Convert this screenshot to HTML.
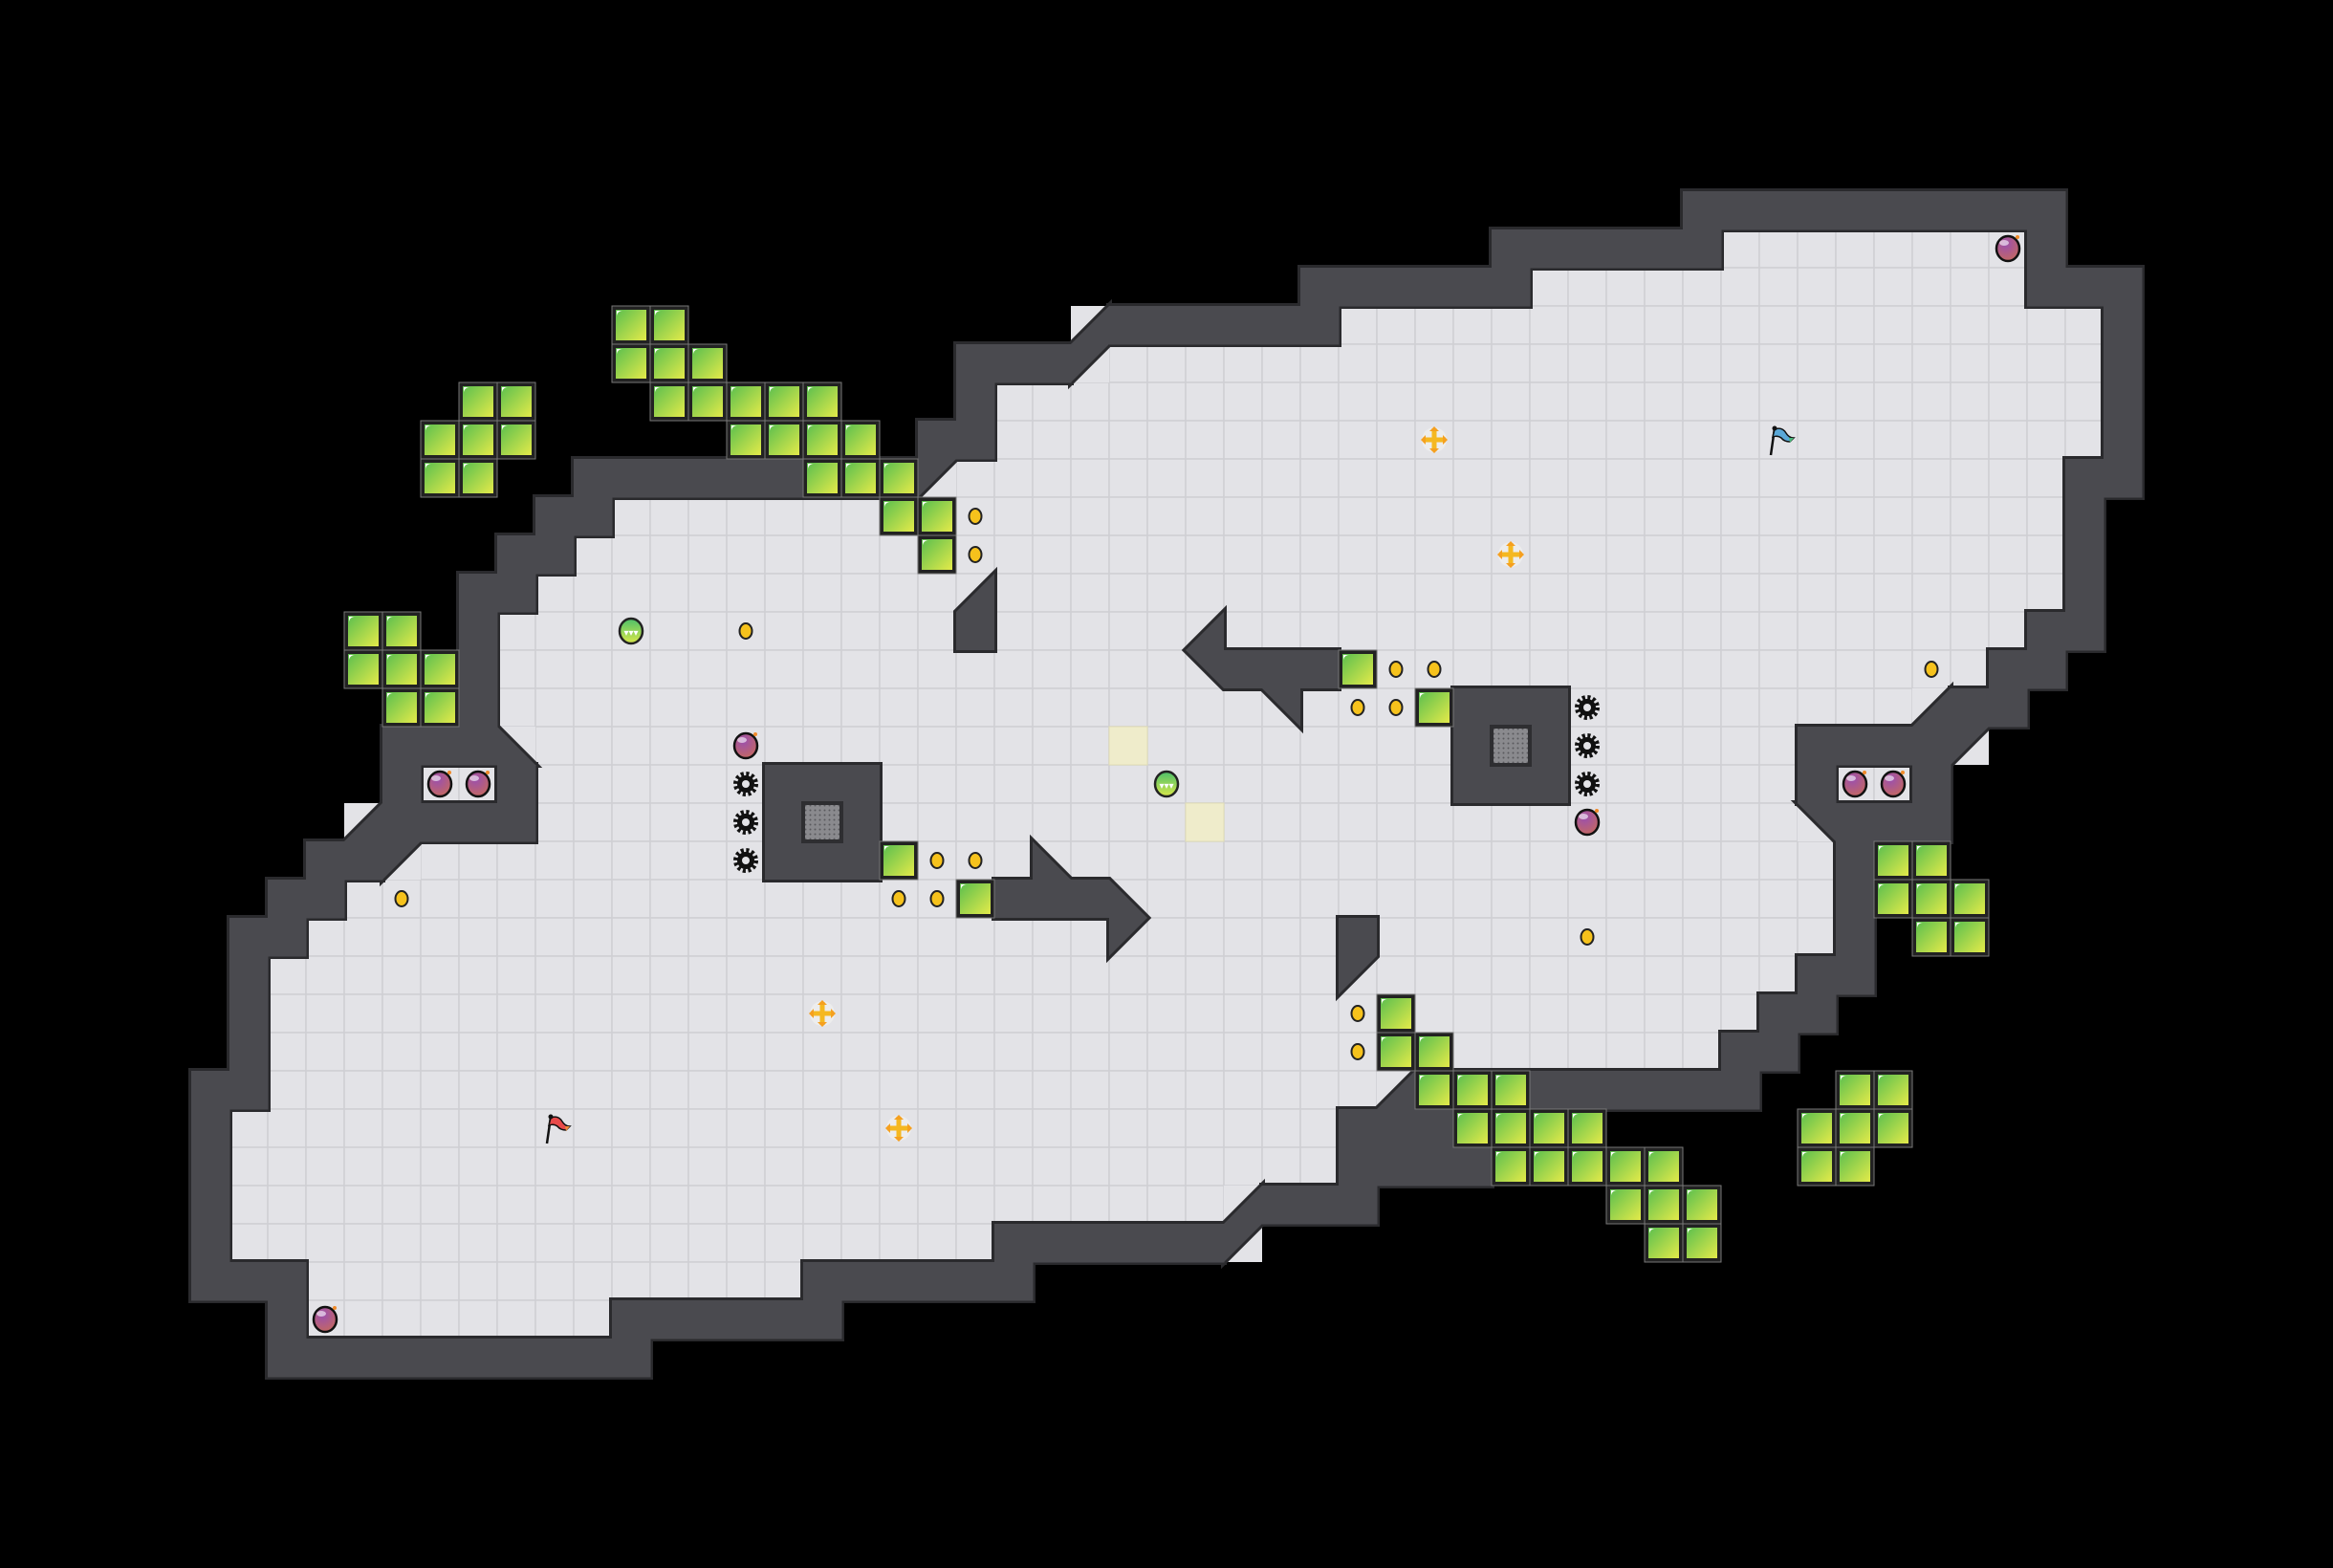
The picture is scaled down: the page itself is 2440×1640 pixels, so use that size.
<!DOCTYPE html>
<html><head><meta charset="utf-8"><style>html,body{margin:0;padding:0;background:#000;width:2440px;height:1640px;overflow:hidden}</style></head>
<body>
<svg id="s" xmlns="http://www.w3.org/2000/svg" width="2440" height="1640" viewBox="0 0 2440 1640">
<defs>
<linearGradient id="gg" x1="0" y1="0" x2="1" y2="1"><stop offset="0" stop-color="#5cbf4e"/><stop offset="1" stop-color="#e3ea4a"/></linearGradient>
<radialGradient id="bg" cx="0.4" cy="0.3" r="0.8"><stop offset="0" stop-color="#9a4fb0"/><stop offset="1" stop-color="#c86a5a"/></radialGradient>
<linearGradient id="gb" x1="0" y1="0" x2="0" y2="1"><stop offset="0" stop-color="#4cbf6a"/><stop offset="1" stop-color="#d8e84a"/></linearGradient>
<pattern id="grate" width="5" height="5" patternUnits="userSpaceOnUse"><rect width="5" height="5" fill="#8a8a8e"/><circle cx="2.5" cy="2.5" r="1" fill="#5a5a5e"/></pattern>
</defs>
<rect width="2440" height="1640" fill="#000"/>
<g id="g"></g>
</svg>
<script>
var NS="http://www.w3.org/2000/svg",G=document.getElementById('g');
function el(t,a,p){var e=document.createElementNS(NS,t);for(var k in a)e.setAttribute(k,a[k]);(p||G).appendChild(e);return e;}
var F={6:[[45,52]],7:[[40,52]],8:[[35,54]],9:[[29,54]],10:[[26,54]],11:[[26,54]],12:[[25,53]],13:[[16,53]],14:[[15,53]],15:[[14,53]],16:[[13,52]],17:[[13,51]],18:[[13,49]],19:[[14,46]],20:[[11,12],[14,46],[48,49]],21:[[14,46]],22:[[11,47]],23:[[9,47]],24:[[8,47]],25:[[7,46]],26:[[7,45]],27:[[7,44]],28:[[7,35]],29:[[6,34]],30:[[6,34]],31:[[6,31]],32:[[6,25]],33:[[8,20]],34:[[8,15]]};
var floor={},wall={};
for(var r in F)F[r].forEach(function(s){for(var c=s[0];c<=s[1];c++)floor[r+','+c]=1;});
for(var k in floor){var p=k.split(',').map(Number);for(var dr=-1;dr<=1;dr++)for(var dc=-1;dc<=1;dc++){var kk=(p[0]+dr)+','+(p[1]+dc);if(!floor[kk])wall[kk]=1;}}
[[29,37],[30,36],[30,37],[30,38]].forEach(function(a){wall[a[0]+','+a[1]]=1;});
var slopes=[[8,28,'LR'],[9,28,'UL'],[12,24,'UL'],[19,13,'LL'],[21,9,'LR'],[22,10,'UL'],[31,32,'LR'],[32,32,'UL'],[28,36,'LR'],[18,50,'LR'],[19,51,'UL'],[21,47,'UR']];
slopes.forEach(function(s){delete wall[s[0]+','+s[1]];});
var FL='#e3e3e7',GL='#cfcfd4',WF='#4a4a4f',WO='#2a2a2d';
// floor
for(var k in floor){var p=k.split(',').map(Number);el('rect',{x:p[1]*40,y:p[0]*40,width:40,height:40,fill:FL,stroke:GL,'stroke-width':1.5});}
function tri(s){var x=s[1]*40,y=s[0]*40,A=[x,y],B=[x+40,y],C=[x+40,y+40],D=[x,y+40];
 var m={UL:[[A,B,D],[B,C,D]],LR:[[B,C,D],[A,B,D]],LL:[[A,D,C],[A,B,C]],UR:[[A,B,C],[A,D,C]]}[s[2]];
 return m.map(function(t){return t.map(function(q){return q.join(',')}).join(' ');});}
slopes.forEach(function(s){el('polygon',{points:tri(s)[1],fill:FL});});
var obs=['1000,680 1000,640 1040,600 1040,680','1400,960 1440,960 1440,1000 1400,1040',
'1280,640 1280,680 1400,680 1400,720 1360,720 1360,760 1320,720 1280,720 1240,680',
'1040,920 1080,920 1080,880 1120,920 1160,920 1200,960 1160,1000 1160,960 1040,960',
'800,800 920,800 920,920 800,920','1520,720 1640,720 1640,840 1520,840'];
// outlines
for(var k in wall){var p=k.split(',').map(Number);el('rect',{x:p[1]*40,y:p[0]*40,width:40,height:40,fill:WO,stroke:WO,'stroke-width':6,'stroke-linejoin':'miter'});}
slopes.forEach(function(s){el('polygon',{points:tri(s)[0],fill:WO,stroke:WO,'stroke-width':6});});
obs.forEach(function(o){el('polygon',{points:o,fill:WO,stroke:WO,'stroke-width':6});});
// fills
for(var k in wall){var p=k.split(',').map(Number);el('rect',{x:p[1]*40,y:p[0]*40,width:40.5,height:40.5,fill:WF});}
slopes.forEach(function(s){el('polygon',{points:tri(s)[0],fill:WF});});
obs.forEach(function(o){el('polygon',{points:o,fill:WF});});
// grates
[[840,840],[1560,760]].forEach(function(g){el('rect',{x:g[0]-2,y:g[1]-2,width:44,height:44,fill:'#2e2e31'});el('rect',{x:g[0]+2,y:g[1]+2,width:36,height:36,fill:'url(#grate)'});});
// pale tiles
[[19,29],[21,31]].forEach(function(a){el('rect',{x:a[1]*40,y:a[0]*40,width:40,height:40,fill:'#efeccb',stroke:'#e0ddb5'});});
// greens
var GR={8:[16,17],9:[16,17,18],10:[12,13,17,18,19,20,21],11:[11,12,13,19,20,21,22],12:[11,12,21,22,23],13:[23,24],14:[24],16:[9,10],17:[9,10,11,35],18:[10,11,37],22:[23,49,50],23:[25,49,50,51],24:[50,51],26:[36],27:[36,37],28:[37,38,39,48,49],29:[38,39,40,41,47,48,49],30:[39,40,41,42,43,47,48],31:[42,43,44],32:[43,44]};
for(var r in GR)GR[r].forEach(function(c){var x=c*40,y=r*40;el('rect',{x:x,y:y,width:40,height:40,fill:'#222',stroke:'#777','stroke-width':1});el('rect',{x:x+4,y:y+4,width:32,height:32,fill:'url(#gg)'});el('path',{d:'M'+(x+5)+' '+(y+5)+'h6a6 6 0 0 0 -6 6z',fill:'#fff'});});
// coins
[[13,25],[14,25],[16,19],[17,36],[17,37],[18,35],[18,36],[17,50],[22,24],[22,25],[23,23],[23,24],[23,10],[24,41],[26,35],[27,35]].forEach(function(a){el('ellipse',{cx:a[1]*40+20,cy:a[0]*40+20,rx:6.5,ry:8,fill:'#f6c21c',stroke:'#222','stroke-width':2});});
// bombs
[[6,52],[34,8],[19,19],[21,41],[20,11],[20,12],[20,48],[20,49]].forEach(function(a){var x=a[1]*40+20,y=a[0]*40+20;el('ellipse',{cx:x,cy:y,rx:12,ry:13,fill:'url(#bg)',stroke:'#111','stroke-width':2.5});el('ellipse',{cx:x-4,cy:y-6,rx:5,ry:3,fill:'#fff',opacity:0.6});el('circle',{cx:x+10,cy:y-12,r:2,fill:'#f08a2a'});});
// gears
[[20,19],[21,19],[22,19],[18,41],[19,41],[20,41]].forEach(function(a){var x=a[1]*40+20,y=a[0]*40+20;el('circle',{cx:x,cy:y,r:10.5,fill:'none',stroke:'#111','stroke-width':5,'stroke-dasharray':'3 2.5'});el('circle',{cx:x,cy:y,r:9,fill:'#111'});el('circle',{cx:x,cy:y,r:4,fill:'#e3e3e7'});});
// green balls
[[16,16],[20,30]].forEach(function(a){var x=a[1]*40+20,y=a[0]*40+20;el('ellipse',{cx:x,cy:y,rx:12,ry:13,fill:'url(#gb)',stroke:'#222','stroke-width':2.5});el('text',{x:x,y:y+5,'font-size':10,'text-anchor':'middle',fill:'#fff','font-family':'Liberation Sans, sans-serif'}).textContent='▾▾▾';});
// crosses
[[11,37],[14,39],[26,21],[29,23]].forEach(function(a){var x=a[1]*40+20,y=a[0]*40+20;el('circle',{cx:x,cy:y,r:13,fill:'#efefef',opacity:0.8});el('path',{d:'M'+(x-12)+' '+y+'H'+(x+12)+'M'+x+' '+(y-12)+'V'+(y+12),stroke:'#f5b820','stroke-width':5});el('path',{d:'M'+(x-14)+' '+y+'l5 -5v10zM'+(x+14)+' '+y+'l-5 -5v10zM'+x+' '+(y-14)+'l-5 5h10zM'+x+' '+(y+14)+'l-5 -5h10z',fill:'#f5a020'});});
// flags
function flag(r,c,col,col2){var x=c*40+12,y=r*40+6;el('path',{d:'M'+x+' '+(y+30)+'L'+(x+4)+' '+(y+2),stroke:'#111','stroke-width':2.5});el('path',{d:'M'+(x+4)+' '+(y+3)+'q8 -3 12 4q3 5 8 5l-4 4q-6 0 -9 -4q-4 -3 -9 -1z',fill:col,stroke:'#111','stroke-width':1.5});el('path',{d:'M'+(x+19)+' '+(y+12)+'l5 0 -4 5z',fill:col2});el('circle',{cx:x+4,cy:y+2,r:2.5,fill:'#111'});}
flag(11,46,'#5aa8d8','#4ab87a');flag(29,14,'#e84a4a','#f08a3a');
</script>
</body></html>
